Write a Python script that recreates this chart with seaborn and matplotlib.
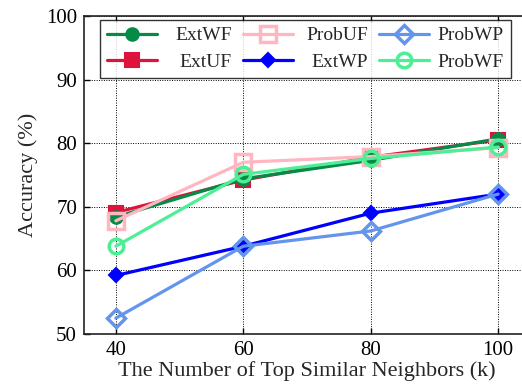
import matplotlib
matplotlib.use("Agg")
import matplotlib.pyplot as plt
import seaborn as sns
import pandas as pd

# Accuracy for each method as the neighborhood size k grows
k_values = [40, 60, 80, 100]
ext_wf = [68.4, 74.4, 77.3, 80.7]
ext_uf = [69.1, 74.2, 77.8, 80.5]
prob_uf = [67.8, 77.0, 77.9, 79.3]
ext_wp = [59.2, 63.8, 69.0, 72.0]
prob_wp = [52.5, 63.8, 66.2, 72.0]
prob_wf = [63.8, 75.1, 77.6, 79.4]

series = {
    "ExtWF": ext_wf,
    "ExtUF": ext_uf,
    "ProbUF": prob_uf,
    "ExtWP": ext_wp,
    "ProbWP": prob_wp,
    "ProbWF": prob_wf,
}

styles = {
    "ExtWF": dict(color="#058a48", marker="o", ms=9, mfc="#058a48", mew=1.5, zorder=4),
    "ExtUF": dict(color="#dc143c", marker="s", ms=9.5, mfc="#dc143c", mew=1.5, zorder=3),
    "ProbUF": dict(color="#ffb6c1", marker="s", ms=11, mfc="none", mew=2.5, zorder=5),
    "ExtWP": dict(color="#0000ff", marker="D", ms=7, mfc="#0000ff", mew=1.5, zorder=4),
    "ProbWP": dict(color="#6495ed", marker="D", ms=9.5, mfc="none", mew=2.5, zorder=5),
    "ProbWF": dict(color="#4eee94", marker="o", ms=10.5, mfc="none", mew=2.5, zorder=6),
}

df = pd.DataFrame(
    [(name, k, v) for name, vals in series.items() for k, v in zip(k_values, vals)],
    columns=["method", "k", "accuracy"],
)

sns.set_style("ticks")
plt.rcParams["font.family"] = ["Liberation Serif", "DejaVu Serif"]

DPI = 100
fig = plt.figure(figsize=(5.22, 3.86), dpi=DPI)
W, H = 522, 386
ax = fig.add_axes([84 / W, 1 - 334 / H, (530 - 84) / W, (334 - 16) / H])

for name in series:
    st = styles[name]
    sub = df[df["method"] == name]
    sns.lineplot(
        data=sub, x="k", y="accuracy", ax=ax, label=name,
        color=st["color"], marker=st["marker"], markersize=st["ms"],
        markerfacecolor=st["mfc"], markeredgecolor=st["color"],
        markeredgewidth=st["mew"], linewidth=2.3, zorder=st["zorder"],
    )

ax.set_xlim(35, 105)
ax.set_ylim(50, 100)
ax.set_xticks(k_values)
ax.set_yticks([50, 60, 70, 80, 90, 100])
ax.grid(True, color="black", linestyle=(0, (1, 1.5)), linewidth=0.7)
ax.set_axisbelow(True)
ax.tick_params(direction="in", labelsize=15, length=4, width=1, top=True, right=False,
               colors="black", pad=5)
for sp in ax.spines.values():
    sp.set_linewidth(1.2)
    sp.set_color("#222222")
ax.spines["right"].set_visible(False)

ax.set_xlabel("The Number of Top Similar Neighbors (k)", fontsize=16, labelpad=1)
ax.set_ylabel("Accuracy (%)", fontsize=16, labelpad=6)

LEG_FS = 14
HANDLE_PX = 50
COL_PX = 125
leg = ax.legend(
    ncol=3, loc="upper left", bbox_to_anchor=((100 - 84) / 446, (334 - 20) / 318),
    fontsize=LEG_FS, frameon=True, fancybox=False, edgecolor="black",
    handlelength=HANDLE_PX * 72 / DPI / LEG_FS, handletextpad=1.0,
    columnspacing=11 * 72 / DPI / LEG_FS, borderpad=0.35,
    labelspacing=0.45, borderaxespad=0,
)
leg.get_frame().set_linewidth(1.0)
leg.set_zorder(10)

# fixed-width legend columns: handles on the left, labels flush right
renderer = fig.canvas.get_renderer()
for column in leg._legend_handle_box.get_children():
    for entry in column.get_children():
        text_w = entry.get_children()[1].get_window_extent(renderer).width
        entry.sep = max(COL_PX - HANDLE_PX - text_w, 4) * 72.0 / DPI

fig.savefig("out.png", dpi=DPI)
